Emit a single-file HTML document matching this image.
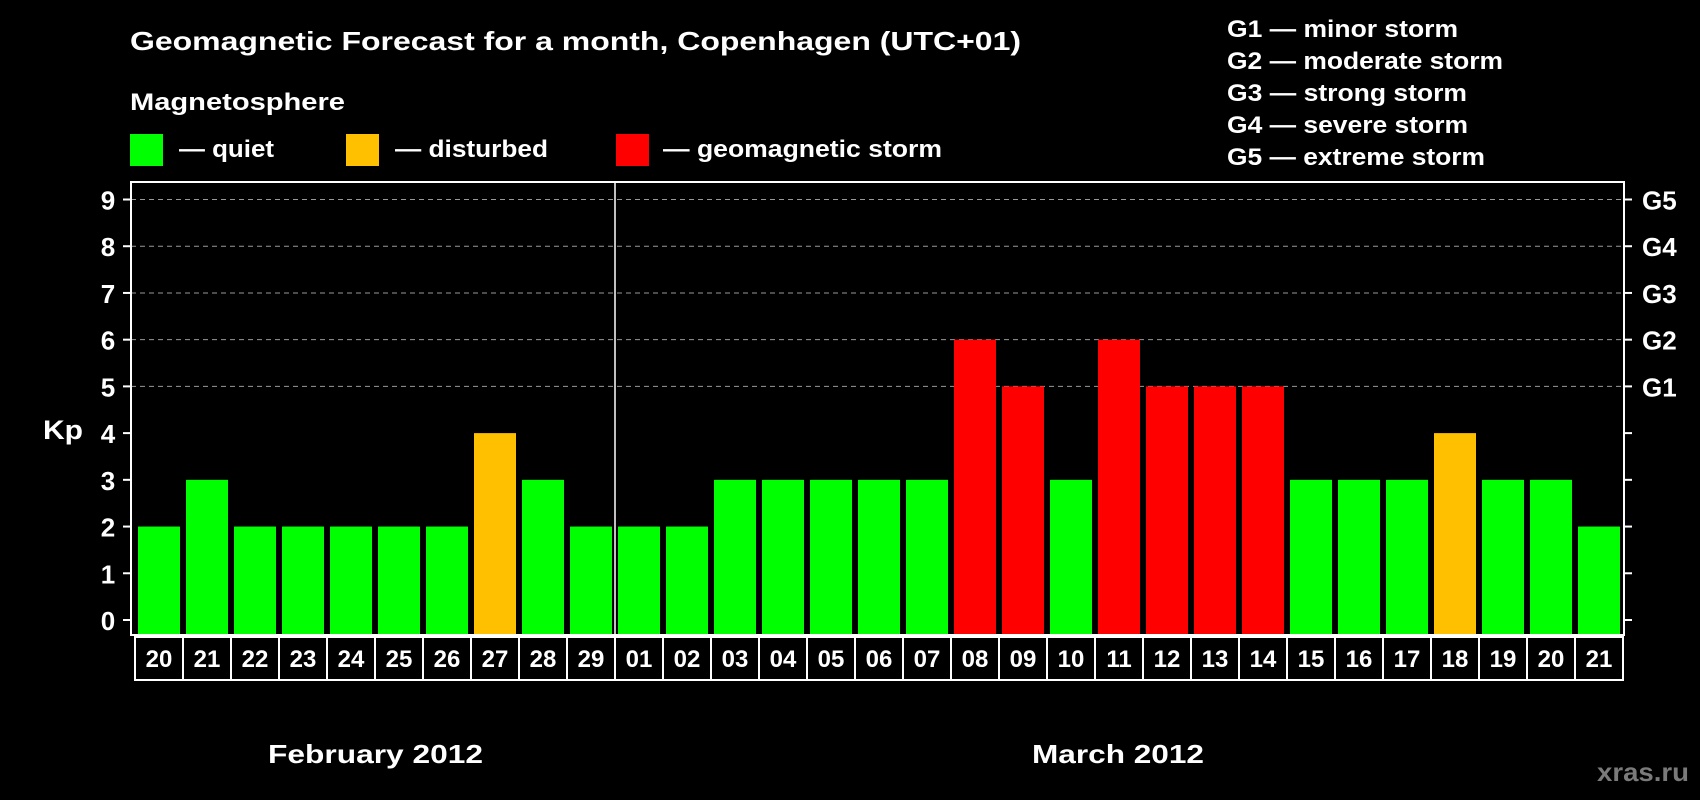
<!DOCTYPE html>
<html><head><meta charset="utf-8"><style>
html,body{margin:0;padding:0;background:#000;width:1700px;height:800px;overflow:hidden}
svg text{font-family:"Liberation Sans",Arial,sans-serif;font-weight:bold;fill:#fff}
</style></head><body>
<svg id="chart" width="1700" height="800" viewBox="0 0 1700 800" xmlns="http://www.w3.org/2000/svg">
<rect width="1700" height="800" fill="#000"/>
<text x="130" y="50" font-size="26" textLength="891" lengthAdjust="spacingAndGlyphs">Geomagnetic Forecast for a month, Copenhagen (UTC+01)</text>
<text x="130" y="110" font-size="24" textLength="215" lengthAdjust="spacingAndGlyphs">Magnetosphere</text>
<rect x="130" y="134" width="33" height="32" fill="#00ff00"/>
<text x="179" y="157" font-size="24" textLength="95" lengthAdjust="spacingAndGlyphs">— quiet</text>
<rect x="346" y="134" width="33" height="32" fill="#ffc000"/>
<text x="395" y="157" font-size="24" textLength="153" lengthAdjust="spacingAndGlyphs">— disturbed</text>
<rect x="616" y="134" width="33" height="32" fill="#ff0000"/>
<text x="663" y="157" font-size="24" textLength="279" lengthAdjust="spacingAndGlyphs">— geomagnetic storm</text>
<text x="1227" y="37" font-size="24" textLength="231" lengthAdjust="spacingAndGlyphs">G1 — minor storm</text>
<text x="1227" y="69" font-size="24" textLength="276" lengthAdjust="spacingAndGlyphs">G2 — moderate storm</text>
<text x="1227" y="101" font-size="24" textLength="240" lengthAdjust="spacingAndGlyphs">G3 — strong storm</text>
<text x="1227" y="133" font-size="24" textLength="241" lengthAdjust="spacingAndGlyphs">G4 — severe storm</text>
<text x="1227" y="165" font-size="24" textLength="258" lengthAdjust="spacingAndGlyphs">G5 — extreme storm</text>
<text x="43" y="439" font-size="27" textLength="40" lengthAdjust="spacingAndGlyphs">Kp</text>
<text x="268" y="763" font-size="26" textLength="215" lengthAdjust="spacingAndGlyphs">February 2012</text>
<text x="1032" y="763" font-size="26" textLength="172" lengthAdjust="spacingAndGlyphs">March 2012</text>
<text x="1597" y="781" font-size="26" fill="#808080" style="fill:#7a7a7a" textLength="92" lengthAdjust="spacingAndGlyphs">xras.ru</text>
<g id="grid"></g><g id="bars"></g><g id="axes"></g>
</svg>
<script>
const days = ["20","21","22","23","24","25","26","27","28","29","01","02","03","04","05","06","07","08","09","10","11","12","13","14","15","16","17","18","19","20","21"];
const kpValues = [2,3,2,2,2,2,2,4,3,2,2,2,3,3,3,3,3,6,5,3,6,5,5,5,3,3,3,4,3,3,2];
const yTicks = [0,1,2,3,4,5,6,7,8,9];
const gLabels = ["G1","G2","G3","G4","G5"];
const gLevels = [5,6,7,8,9];
const monthSplitIndex = 10;

const NS = "http://www.w3.org/2000/svg";
const plotL = 131, plotR = 1624, plotT = 182, plotB = 635;
const slotL = 135, slotW = 48;
function y(v){ return 620 - v * (420.5/9); }
function xSlot(i){ return slotL + i * slotW; }
function mk(tag, attrs, parent){ const e=document.createElementNS(NS,tag); for(const k in attrs) e.setAttribute(k,attrs[k]); parent.appendChild(e); return e; }
const grid=document.getElementById('grid'), bars=document.getElementById('bars'), axes=document.getElementById('axes');

gLevels.forEach(v=>{
  const l=mk('line',{x1:plotL,x2:plotR,y1:y(v),y2:y(v),stroke:'#999','stroke-width':1,'stroke-dasharray':'5,4'},grid);
  
  
});
kpValues.forEach((v,i)=>{
  const c = v>=5 ? '#ff0000' : (v>=4 ? '#ffc000' : '#00ff00');
  const r=mk('rect',{x:xSlot(i)+3,y:y(v),width:42,height:plotB-1-y(v),fill:c},bars);
  
  
});
const frame=mk('rect',{x:plotL,y:plotT,width:plotR-plotL,height:plotB-plotT,fill:'none',stroke:'#fff','stroke-width':2},axes);


const sep=mk('line',{x1:xSlot(monthSplitIndex),x2:xSlot(monthSplitIndex),y1:plotT,y2:plotB,stroke:'#fff','stroke-width':1.5},axes);


yTicks.forEach(v=>{
  mk('line',{x1:plotL-8,x2:plotL,y1:y(v),y2:y(v),stroke:'#fff','stroke-width':2},axes);
  mk('line',{x1:plotR,x2:plotR+8,y1:y(v),y2:y(v),stroke:'#fff','stroke-width':2},axes);
  const t=mk('text',{x:108,y:y(v)+10,'font-size':26,'text-anchor':'middle'},axes);
  t.textContent=v;
  
  
});
gLevels.forEach((v,i)=>{
  const t=mk('text',{x:1642,y:y(v)+10,'font-size':26},axes);
  t.textContent=gLabels[i];
  
  
});
const box=mk('rect',{x:slotL,y:637,width:slotW*days.length,height:43,fill:'none',stroke:'#fff','stroke-width':2},axes);


days.forEach((d,i)=>{
  if(i>0) mk('line',{x1:xSlot(i),x2:xSlot(i),y1:637,y2:680,stroke:'#fff','stroke-width':2},axes);
  const t=mk('text',{x:xSlot(i)+24,y:667,'font-size':24,'text-anchor':'middle'},axes);
  t.textContent=d;
  
  
});
</script>
</body></html>
